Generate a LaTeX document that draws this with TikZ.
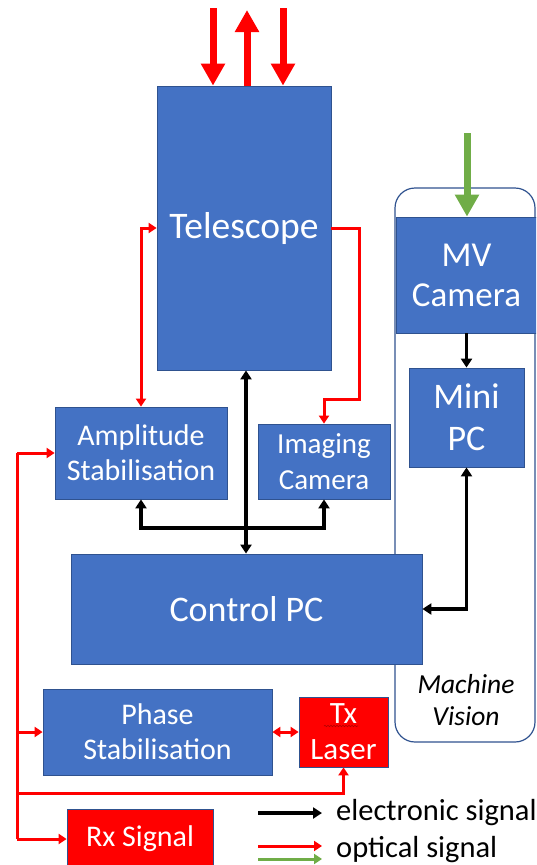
\documentclass[tikz,border=0pt]{standalone}
\usepackage{fontspec}
\setmainfont{Carlito}
\usetikzlibrary{arrows.meta,decorations.pathmorphing}
\definecolor{ofblue}{HTML}{4472C4}
\definecolor{edgeblue}{HTML}{2F528F}
\definecolor{sigred}{HTML}{FF0000}
\definecolor{siggreen}{HTML}{70AD47}
\begin{document}
\begin{tikzpicture}[x=1pt,y=-1pt,
  unit/.style={draw=edgeblue, line width=0.8pt, fill=ofblue, text=white,
               inner sep=0pt, align=center},
  redunit/.style={unit, fill=sigred},
  fsbig/.style={font=\fontsize{35}{40}\selectfont},
  fsmid/.style={font=\fontsize{30}{35}\selectfont},
  optline/.style={draw=sigred, line width=3pt},
  eline/.style={draw=black, line width=3.5pt},
  otip/.style={-{Triangle[length=8pt,width=10pt]}},
  otips/.style={{Triangle[length=8pt,width=10pt]}-{Triangle[length=8pt,width=10pt]}},
  etip/.style={-{Triangle[length=9pt,width=11pt]}},
  etips/.style={{Triangle[length=9pt,width=11pt]}-{Triangle[length=9pt,width=11pt]}},
  beam/.style={line width=7pt, -{Triangle[length=22pt,width=23pt]}},
]
\useasboundingbox (0,0) rectangle (536,865);
\clip (0,0) rectangle (536,865);

% machine vision enclosure
\draw[edgeblue, line width=1.2pt, rounded corners=20pt] (395,188) rectangle (535,742);
\node[font=\itshape\fontsize{27.5}{32}\selectfont, align=center] (mvlabel) at (466,700) {Machine\\Vision};

% blocks
\node[unit, font=\fontsize{37.5}{42}\selectfont, minimum width=174pt, minimum height=284pt] (tel) at (244,228) {Telescope};
\node[unit, fsmid, minimum width=172pt, minimum height=92pt] (amp) at (141,453) {Amplitude\\Stabilisation};
\node[unit, font=\fontsize{29}{36}\selectfont, minimum width=132pt, minimum height=75pt] (img) at (324,461.5) {Imaging\\Camera};
\node[unit, font=\fontsize{36}{40}\selectfont, minimum width=351pt, minimum height=110pt] (ctl) at (246.5,609) {Control PC};
\node[unit, fsmid, minimum width=229pt, minimum height=86pt] (pha) at (157.5,732) {Phase\\Stabilisation};
\node[redunit, font=\fontsize{31}{36}\selectfont, minimum width=89pt, minimum height=70pt] (tx) at (343.5,732) {Tx\\Laser};
\node[redunit, fsmid, minimum width=146pt, minimum height=60pt] (rx) at (140,839) {Rx Signal};
\node[unit, fsbig, minimum width=141pt, minimum height=116pt] (mv) at (466.5,275) {MV\\Camera};
\node[unit, font=\fontsize{36}{42}\selectfont, minimum width=115pt, minimum height=99pt] (mini) at (466.5,417.5) {Mini\\PC};

% spell-check squiggle under "Tx"
\draw[red!70!black, line width=0.6pt, decorate,
      decoration={snake, amplitude=0.7pt, segment length=3pt}] (324,726) -- (358,726);

% incoming / outgoing beams
\coordinate (beamA) at (213,8);
\coordinate (beamB) at (247,10);
\coordinate (beamC) at (283,8);
\coordinate (beamG) at (467,133);
\draw[beam, sigred] (beamA) -- (beamA |- tel.north);
\draw[beam, sigred] (beamB |- tel.north) -- (beamB);
\draw[beam, sigred] (beamC) -- (beamC |- tel.north);
\draw[beam, siggreen] (beamG) -- (beamG |- mv.north);

% optical links
\draw[optline, otips] (amp.north) |- (tel.west);
\draw[optline, otip] (tel.east) -| (359,399) -| (img.north);
\draw[optline, otips] (pha.east) -- (tx.west);
\coordinate (bus) at (17,0);
\draw[optline] (amp.west -| bus) -- (rx.west -| bus);
\draw[optline, otip] (amp.west -| bus) -- (amp.west);
\draw[optline, otip] (pha.west -| bus) -- (pha.west);
\draw[optline, otip] (rx.west -| bus) -- (rx.west);
\coordinate (txrow) at (17,793);
\draw[optline, otip] (txrow) -| (tx.south);

% electronic links
\draw[eline, etips] (tel.south -| 246,0) -- (ctl.north -| 246,0);
\coordinate (split) at (246,528);
\draw[eline, etip] (split) -| (amp.south);
\draw[eline, etip] (split) -| (img.south);
\draw[eline, etip] (mv.south) -- (mini.north);
\draw[eline, etips] (mini.south) |- (ctl.east);

% legend
\coordinate (keyE0) at (258,813);
\coordinate (keyE1) at (322,813);
\coordinate (keyR0) at (258,846);
\coordinate (keyR1) at (322,846);
\coordinate (keyG0) at (258,859);
\coordinate (keyG1) at (322,859);
\draw[eline, etip] (keyE0) -- (keyE1);
\draw[optline, otip] (keyR0) -- (keyR1);
\draw[optline, draw=siggreen, otip] (keyG0) -- (keyG1);
\node[font=\fontsize{30.5}{35}\selectfont, anchor=west, inner sep=0pt] (keyEtext) at (336,813) {electronic signal};
\node[font=\fontsize{30.5}{35}\selectfont, anchor=west, inner sep=0pt] (keyOtext) at (336,850) {optical signal};
\end{tikzpicture}
\end{document}
